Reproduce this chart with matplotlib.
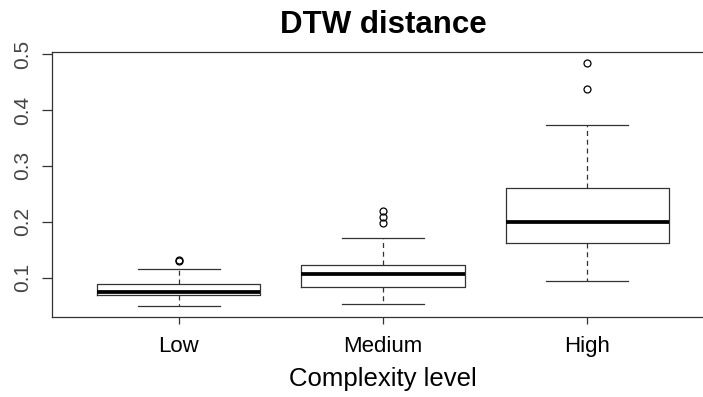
import matplotlib
matplotlib.use("Agg")
import matplotlib.pyplot as plt

plt.rcParams['font.family'] = ['Liberation Sans', 'DejaVu Sans']

# box statistics
levels = ['Low', 'Medium', 'High']
whisker_lo = [0.0494, 0.0529, 0.0946]
q1 = [0.0696, 0.0828, 0.1615]
medians = [0.0744, 0.106, 0.1996]
q3 = [0.0887, 0.1222, 0.261]
whisker_hi = [0.116, 0.171, 0.374]
outliers = [[0.1305, 0.1325], [0.1974, 0.209, 0.2197], [0.438, 0.4846]]

stats = []
for i in range(len(levels)):
    stats.append({'whislo': whisker_lo[i], 'q1': q1[i], 'med': medians[i],
                  'q3': q3[i], 'whishi': whisker_hi[i], 'fliers': outliers[i],
                  'label': levels[i]})

fig = plt.figure(figsize=(7.03, 3.97), dpi=100)
ax = fig.add_axes([52 / 703, 80.3 / 397, 662 / 703, 264.7 / 397])

line_col = '#333333'
ax.bxp(stats, positions=[1, 2, 3], widths=0.8,
       boxprops=dict(color=line_col, linewidth=0.9),
       medianprops=dict(color='black', linewidth=2.7, solid_capstyle='butt'),
       whiskerprops=dict(color=line_col, linewidth=0.9, linestyle=(0, (4, 3))),
       capprops=dict(color=line_col, linewidth=0.9),
       capwidths=0.4,
       flierprops=dict(marker='o', markersize=5, markerfacecolor='none',
                       markeredgecolor='black', markeredgewidth=0.9))

ax.set_xlim(0.38, 3.62)
ax.set_ylim(0.0303, 0.5037)
ax.set_yticks([0.1, 0.2, 0.3, 0.4, 0.5])
ax.set_yticklabels(['0.1', '0.2', '0.3', '0.4', '0.5'], rotation=90, va='center',
                   color='#444444')
ax.set_xticks([1, 2, 3])
ax.set_xticklabels(levels)

ax.spines['right'].set_visible(False)
for s in ['left', 'top', 'bottom']:
    ax.spines[s].set_color(line_col)
    ax.spines[s].set_linewidth(0.9)

ax.tick_params(axis='y', length=7.5, width=0.9, color=line_col, pad=7, labelsize=15)
ax.tick_params(axis='x', length=5, width=0.9, color=line_col, pad=9, labelsize=16)

ax.set_title('DTW distance', fontsize=22.5, fontweight='bold', pad=14)
ax.set_xlabel('Complexity level', fontsize=18.5, labelpad=7)

fig.savefig('out.png', dpi=100)
